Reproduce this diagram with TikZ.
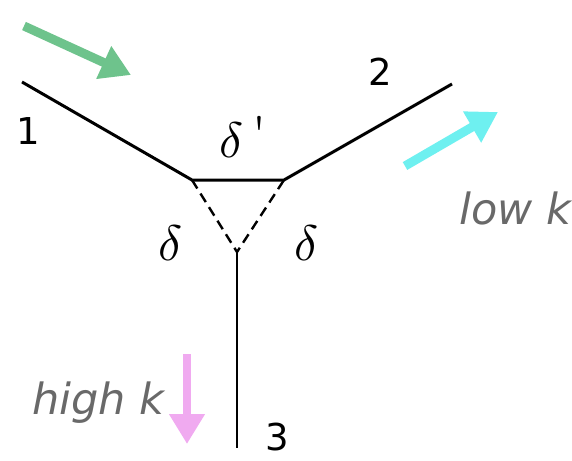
\documentclass[tikz,border=0pt]{standalone}
\usepackage{fontspec}
\usepackage{amsmath}
\usepackage{graphicx}
\usetikzlibrary{arrows.meta}
\newfontfamily\labelfont{DejaVu Sans}
\definecolor{inflow}{RGB}{110,195,140}
\definecolor{lowflow}{RGB}{110,240,240}
\definecolor{highflow}{RGB}{240,170,240}
\definecolor{wavetext}{RGB}{105,105,105}
\tikzset{
  leglabel/.style={font=\labelfont\fontsize{37}{40}\selectfont},
  wavelabel/.style={wavetext, font=\labelfont\itshape\fontsize{43}{46}\selectfont},
  flow/.style={line width=9pt, arrows={-Triangle[length=30pt, width=34pt]}}
}

\begin{document}
\begin{tikzpicture}[x=1pt, y=-1pt, >=Triangle]
  % Three-wave vertex with triangle correction
  \useasboundingbox (0,0) rectangle (572,460);

  % Vertices
  \coordinate (a1) at (22,82);
  \coordinate (v1) at (192,180);
  \coordinate (v2) at (284,180);
  \coordinate (a2) at (452,84);
  \coordinate (v3) at (237,252);
  \coordinate (a3) at (237,448);

  % Legs and top edge
  \draw[line width=3pt] (a1) -- (v1) -- (v2) -- (a2);
  \draw[line width=2.8pt] (v3) -- (a3);

  % Dashed sides
  \draw[line width=2.4pt, dash pattern=on 10pt off 6pt] (v1) -- (v3) -- (v2);

  % Leg labels
  \node[leglabel] (n1) at (28,131) {1};
  \node[leglabel] (n2) at (380,72) {2};
  \node[leglabel] (n3) at (277,437) {3};

  % Couplings
  \node (dp) at (243,137) {\scalebox{5}{$\delta$\,\raisebox{0.25ex}{\textquotesingle}}};
  \node (dl) at (171,243) {\scalebox{5}{$\delta$}};
  \node (dr) at (307,243) {\scalebox{5}{$\delta$}};

  % Flow arrows
  \draw[flow, inflow] (24,26) -- (131,75);
  \draw[flow, lowflow] (405,166) -- (498,112);
  \draw[flow, highflow, line width=8pt] (187,354) -- (187,444);

  % Wave-number labels
  \node[wavelabel, anchor=west] (lowk) at (456,208) {low k};
  \node[wavelabel, anchor=east] (highk) at (168,403) {high k};
\end{tikzpicture}
\end{document}
